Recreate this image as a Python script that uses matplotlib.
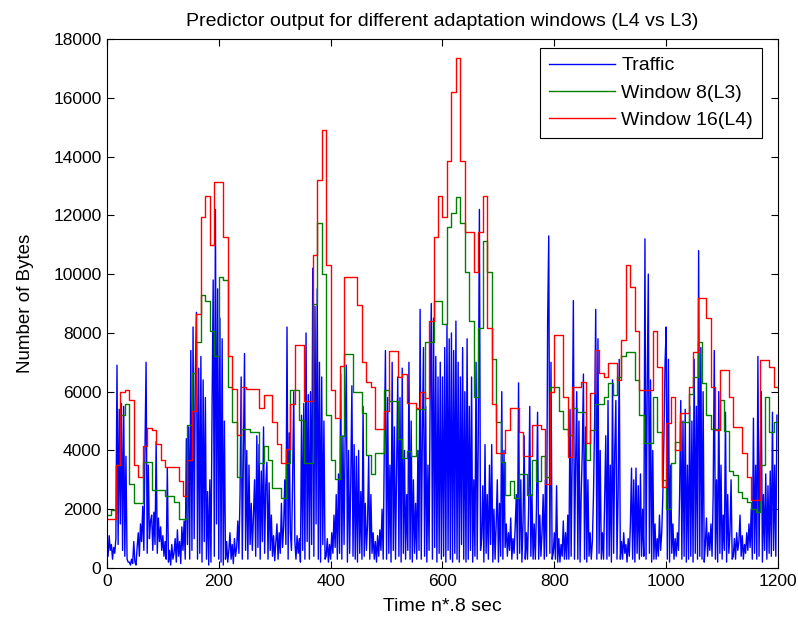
import numpy as np
import matplotlib
matplotlib.use("Agg")
import matplotlib.pyplot as plt

# ---- data ----
# Traffic, sampled every 2 time steps (x = 0, 2, ..., 1198)
traffic = [
    900, 400, 1100, 600, 800, 300, 700, 500, 1000, 6900, 800, 5400, 1500, 5600, 600, 5500, 400, 3800, 300, 200,
    200, 100, 300, 150, 900, 200, 100, 700, 1200, 400, 1500, 900, 2100, 600, 4000, 7000, 500, 3500, 1000, 1600,
    1800, 600, 1900, 800, 4300, 500, 1700, 900, 1400, 600, 1100, 400, 900, 300, 3400, 200, 600, 100, 800, 300,
    500, 1000, 200, 1300, 400, 900, 150, 1400, 600, 1600, 300, 4400, 800, 4800, 300, 7400, 600, 8200, 1000, 6500,
    8700, 300, 6800, 500, 7200, 200, 6400, 900, 5800, 300, 2600, 100, 3000, 200, 5500, 9800, 400, 12200, 1500, 9500,
    300, 8500, 200, 7800, 100, 5000, 300, 900, 200, 600, 1200, 300, 800, 150, 1000, 400, 700, 1600, 500, 2500,
    6500, 300, 3800, 7300, 600, 4000, 300, 3500, 800, 2200, 600, 1800, 3000, 400, 4500, 700, 4200, 300, 3300, 900,
    4800, 500, 2800, 3600, 300, 2900, 600, 1800, 400, 1100, 250, 900, 1500, 300, 1200, 500, 2200, 700, 1400, 3000,
    800, 8200, 300, 4600, 1200, 600, 3000, 6000, 900, 300, 1100, 500, 1000, 200, 5200, 600, 5600, 300, 8000, 900,
    5900, 300, 6000, 800, 10200, 400, 8900, 1500, 9500, 300, 7000, 200, 6500, 800, 5000, 300, 400, 1000, 200, 800,
    300, 1200, 500, 1800, 700, 2500, 300, 3200, 500, 6600, 300, 4500, 800, 4600, 6900, 200, 4000, 500, 3000, 6200,
    400, 4200, 300, 3800, 200, 4000, 500, 2600, 300, 5500, 400, 2200, 600, 1500, 3800, 300, 2500, 500, 1200, 300,
    900, 200, 1100, 400, 1300, 600, 2000, 300, 4200, 7400, 300, 5800, 500, 3500, 200, 7000, 600, 4800, 300, 3500,
    6500, 400, 5800, 200, 6800, 500, 4000, 300, 2500, 600, 7000, 300, 5000, 200, 3000, 500, 2200, 300, 4000, 600,
    8800, 300, 4500, 7500, 400, 5500, 200, 3500, 600, 6000, 9000, 300, 8500, 700, 7200, 200, 6500, 500, 7000, 300,
    6500, 400, 7500, 200, 8300, 600, 7800, 300, 8000, 200, 7400, 500, 8400, 300, 7000, 200, 6500, 800, 7500, 300,
    6000, 200, 7800, 300, 5500, 600, 6500, 200, 3000, 400, 7000, 300, 4500, 12200, 600, 1000, 2800, 200, 4200, 500,
    2500, 300, 3500, 800, 4200, 200, 2000, 300, 1500, 3000, 200, 2200, 400, 6000, 300, 4000, 700, 1500, 400, 1200,
    600, 1700, 300, 1000, 500, 1400, 2500, 300, 6300, 500, 3000, 200, 1500, 4500, 300, 1200, 300, 2000, 5500, 400,
    2500, 300, 1500, 300, 2000, 5300, 300, 1800, 400, 1200, 2500, 300, 3000, 400, 8400, 11300, 500, 7000, 300, 500,
    1200, 300, 2800, 200, 1000, 200, 800, 400, 1600, 300, 1200, 300, 1800, 300, 5400, 400, 4000, 9100, 300, 3500,
    6000, 300, 5000, 200, 2500, 4000, 6600, 300, 4800, 200, 3000, 400, 1200, 300, 900, 2500, 5000, 8800, 300, 7800,
    500, 4000, 300, 1200, 300, 2500, 4500, 300, 5700, 400, 3500, 200, 6400, 500, 4000, 5700, 300, 2500, 7100, 300,
    900, 300, 1200, 500, 800, 200, 1000, 400, 1500, 3400, 300, 3000, 200, 3400, 500, 2800, 300, 3200, 400, 2000,
    400, 11200, 300, 6000, 10000, 500, 6400, 200, 4000, 300, 1500, 300, 1000, 400, 1800, 600, 1200, 2500, 4500, 7000,
    8200, 300, 7100, 200, 3500, 500, 1500, 300, 1000, 400, 1200, 600, 2500, 5700, 300, 5000, 400, 5400, 200, 3500,
    300, 5500, 400, 5000, 200, 7100, 500, 5500, 300, 10800, 400, 7500, 300, 6000, 200, 800, 1700, 400, 1200, 600,
    1500, 400, 2500, 7400, 300, 3000, 200, 6000, 500, 3500, 300, 1800, 600, 5300, 200, 2500, 500, 1200, 3000, 300,
    400, 1000, 300, 1200, 600, 900, 1800, 400, 1100, 300, 800, 500, 1200, 600, 1500, 700, 2000, 300, 5100, 500,
    3500, 300, 7200, 400, 3800, 6000, 200, 2500, 600, 3200, 300, 2800, 500, 3300, 400, 5300, 600, 3500, 400, 5200,
]

# Predictor outputs, one value per 8-step block (x = 0, 8, ..., 1192)
window8 = [
    1790, 1960, 3500, 5220, 5570, 2850, 2200, 2200, 3620, 3620,
    2670, 2670, 2670, 2440, 2440, 2260, 1670, 1670, 4860, 6640,
    7700, 9300, 9100, 8060, 7230, 9890, 9800, 6160, 4970, 3090,
    4740, 4740, 4630, 4630, 3560, 4150, 3680, 2730, 2730, 2380,
    3560, 6050, 6050, 5040, 3560, 3560, 9000, 11730, 10000, 5220,
    3680, 3030, 4500, 7290, 7290, 5990, 5990, 5280, 3860, 3210,
    3920, 3920, 6050, 5690, 5690, 4390, 3740, 3980, 3800, 5400,
    5400, 7700, 7700, 9070, 9070, 8300, 11610, 12080, 12610, 11730,
    10070, 8410, 5810, 8180, 11130, 10070, 7110, 4980, 3620, 2490,
    2970, 2380, 3200, 3200, 2490, 3680, 2970, 3800, 3090, 6160,
    6160, 5340, 4740, 4510, 5450, 5300, 5300, 3680, 4700, 5570,
    5570, 5810, 6280, 5900, 6500, 7230, 7340, 7340, 6400, 5220,
    4270, 4270, 5810, 4630, 3000, 2020, 3560, 4300, 4980, 4980,
    5930, 6510, 7700, 6280, 5220, 4740, 4740, 5720, 4650, 3300,
    3180, 2600, 2380, 2260, 2020, 1900, 3500, 5810, 4630, 4980,
]
window16 = [
    1670, 1670, 3500, 6000, 6050, 5700, 3500, 3090, 4150, 4750,
    4700, 4210, 3680, 3440, 3440, 3440, 2970, 2440, 3680, 5340,
    8650, 11960, 12670, 11000, 13150, 13150, 11250, 7230, 6100, 4510,
    6160, 6100, 6100, 6100, 5450, 5870, 5870, 4980, 4210, 3560,
    4035, 5570, 7590, 7590, 5690, 5690, 10660, 13200, 14920, 10300,
    6050, 5100, 6880, 9890, 9890, 9890, 8950, 7000, 6340, 6160,
    4740, 4740, 5340, 7400, 7400, 6510, 6600, 5620, 5620, 5450,
    5990, 5800, 8400, 11250, 12670, 11960, 13860, 16200, 17350, 13860,
    11430, 11430, 10070, 11430, 12670, 8180, 5570, 3920, 3920, 4690,
    5450, 5450, 4630, 3800, 3800, 4860, 4860, 4740, 2850, 5990,
    7930, 7930, 5810, 3780, 6160, 6160, 6330, 4250, 5950, 7420,
    6630, 6510, 6970, 6970, 6400, 7770, 10300, 9570, 8060, 6060,
    6060, 6060, 8080, 6850, 2770, 4930, 5830, 4010, 5270, 5270,
    6170, 7360, 9180, 9180, 8500, 6170, 4700, 6740, 6740, 5830,
    4810, 4810, 3900, 3110, 2310, 2310, 7070, 7070, 6850, 6170,
]

labels = ["Traffic", "Window 8(L3)", "Window 16(L4)"]
title = "Predictor output for different adaptation windows (L4 vs L3)"
xlabel = "Time n*.8 sec"
ylabel = "Number of Bytes"
xticks = [0, 200, 400, 600, 800, 1000, 1200]
yticks = list(range(0, 18001, 2000))

# ---- plot ----
plt.rcParams['font.family'] = ['Liberation Sans', 'DejaVu Sans']
fig = plt.figure(figsize=(7.98, 6.25), dpi=100)
ax = fig.add_axes([0.134, 0.0912, 0.841, 0.8464])

t_x = np.arange(len(traffic)) * 2
s_x = np.arange(len(window8) + 1) * 8
w8 = np.append(window8, window8[-1])
w16 = np.append(window16, window16[-1])

ax.plot(t_x, traffic, color=(0, 0, 1), lw=1.0, label=labels[0])
ax.step(s_x, w8, where='post', color=(0, 0.5, 0), lw=1.0, label=labels[1])
ax.step(s_x, w16, where='post', color=(1, 0, 0), lw=1.0, label=labels[2])

ax.set_xlim(0, 1200)
ax.set_ylim(0, 18000)
ax.set_xticks(xticks)
ax.set_yticks(yticks)
ax.tick_params(direction='in', top=True, right=True, length=5, labelsize=12.5, pad=4)
for s in ax.spines.values():
    s.set_linewidth(0.8)

ax.set_title(title, fontsize=14, pad=9)
ax.set_xlabel(xlabel, fontsize=14, labelpad=7)
ax.set_ylabel(ylabel, fontsize=13.5, labelpad=14)

leg = ax.legend(loc='upper right', bbox_to_anchor=(0.976, 0.983), fontsize=14,
                fancybox=False, framealpha=1, edgecolor='black', handlelength=3.4,
                borderaxespad=0.0, borderpad=0.45, labelspacing=0.5,
                handletextpad=0.35)
leg.get_frame().set_linewidth(0.8)

fig.savefig("out.png", dpi=100)
